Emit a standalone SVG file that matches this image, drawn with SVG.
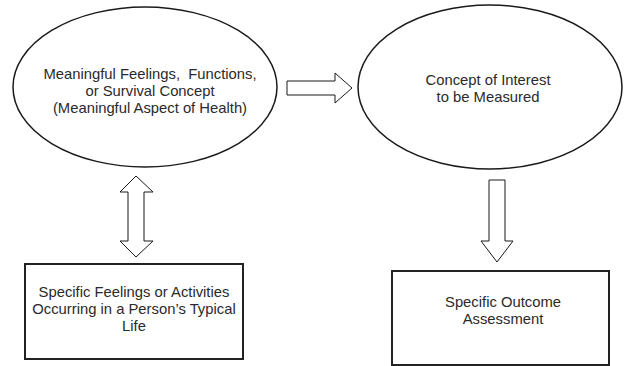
<svg xmlns="http://www.w3.org/2000/svg" width="624" height="366" viewBox="0 0 624 366">
<style>
.ell{fill:#fff;stroke:#1a1a1a;stroke-width:1.5}
.box{fill:#fff;stroke:#222;stroke-width:2}
.arr{fill:#fff;stroke:#1a1a1a;stroke-width:1}
text{font-family:"Liberation Sans",Arial,sans-serif;font-size:14.8px;fill:#2a2a2a;text-anchor:middle}
</style>
<rect width="624" height="366" fill="#fff"/>
<g id="node-meaningful">
<ellipse class="ell" cx="145" cy="87" rx="132" ry="80"/>
<text x="150" y="79" xml:space="preserve" style="white-space:pre">Meaningful Feelings,  Functions,</text>
<text x="150" y="96">or Survival Concept</text>
<text x="150" y="113">(Meaningful Aspect of Health)</text>
</g>
<g id="node-concept">
<ellipse class="ell" cx="490" cy="87" rx="132" ry="82"/>
<text x="488" y="85">Concept of Interest</text>
<text x="488" y="102">to be Measured</text>
</g>
<g id="node-specific-feelings">
<rect class="box" x="25" y="264" width="218" height="95"/>
<text x="134" y="297">Specific Feelings or Activities</text>
<text x="134" y="314">Occurring in a Person’s Typical</text>
<text x="134" y="331">Life</text>
</g>
<g id="node-outcome">
<rect class="box" x="392" y="271" width="217" height="94"/>
<text x="503" y="307">Specific Outcome</text>
<text x="503" y="324">Assessment</text>
</g>
<g id="connectors">
<polygon class="arr" points="287,81 335,81 335,73 352,88 335,103 335,95 287,95"/>
<polygon class="arr" points="136,176 153,192 144,192 144,241 153,241 136,257 120,241 128,241 128,192 120,192"/>
<polygon class="arr" points="489,180 505,180 505,241 513,241 497,262 481,241 489,241"/>
</g>
</svg>
